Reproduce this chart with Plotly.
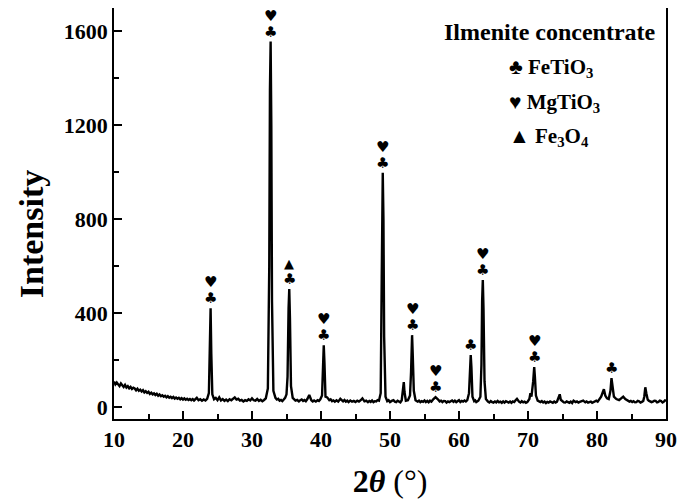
import plotly.graph_objects as go

# ---- data ----
two_theta = [
    10.0, 10.2, 10.4, 10.6, 10.8, 11.0, 11.2, 11.4, 11.6, 11.8, 12.0, 12.2, 12.4, 12.6, 12.8,
    13.0, 13.2, 13.4, 13.6, 13.8, 14.0, 14.2, 14.4, 14.6, 14.8, 15.0, 15.2, 15.4, 15.6, 15.8,
    16.0, 16.2, 16.4, 16.6, 16.8, 17.0, 17.2, 17.4, 17.6, 17.8, 18.0, 18.2, 18.4, 18.6, 18.8,
    19.0, 19.2, 19.4, 19.6, 19.8, 20.0, 20.2, 20.4, 20.6, 20.8, 21.0, 21.2, 21.4, 21.6, 21.8,
    22.0, 22.25, 22.50, 22.75, 23.00, 23.25, 23.50,
    23.75, 23.90, 24.00, 24.10, 24.25, 24.50,
    24.75, 25.00, 25.25, 25.50, 25.75, 26.00, 26.25, 26.50, 26.75, 27.00, 27.25, 27.50,
    27.75, 28.00, 28.25, 28.50, 28.75, 29.00, 29.25, 29.50, 29.75,
    30.00, 30.25, 30.50, 30.75, 31.00, 31.25, 31.50, 31.75, 32.00,
    32.30, 32.50, 32.60, 32.70, 32.80, 32.90, 33.10, 33.40, 33.60, 33.80, 34.00, 34.20,
    34.40, 34.60, 34.80,
    35.00, 35.15, 35.30, 35.40, 35.50, 35.65, 35.90, 36.10, 36.30, 36.55, 36.80, 37.00,
    37.20, 37.40, 37.60, 37.80, 38.00,
    38.30, 38.60, 38.80, 39.00, 39.25, 39.50, 39.70, 39.90,
    40.15, 40.30, 40.40, 40.50, 40.65, 40.90, 41.20, 41.40, 41.60, 41.80, 42.00, 42.25,
    42.50, 42.80, 43.00, 43.20, 43.40, 43.60, 43.80, 44.00, 44.25, 44.50, 44.75, 45.00,
    45.25, 45.50, 45.75, 46.00, 46.30, 46.55, 46.80, 47.00, 47.20, 47.40, 47.60, 47.80,
    48.00, 48.20, 48.40,
    48.65, 48.80, 48.90, 48.95, 49.05, 49.15, 49.35, 49.60, 49.80, 50.00, 50.25, 50.50,
    50.70, 50.90, 51.10, 51.30, 51.50, 51.70, 51.90, 52.00, 52.10, 52.30, 52.60, 52.90,
    53.05, 53.20, 53.30, 53.45, 53.70, 53.85, 54.00, 54.20, 54.40, 54.60, 54.80, 55.00,
    55.20, 55.40, 55.60, 55.80, 56.00, 56.30,
    56.60, 56.90, 57.20, 57.40, 57.60, 57.80, 58.00, 58.20, 58.40, 58.60, 58.80, 59.00,
    59.20, 59.40, 59.60, 59.80, 60.00, 60.20, 60.40, 60.60, 60.80, 61.00,
    61.20, 61.45, 61.60, 61.70, 61.80, 61.95, 62.20, 62.35, 62.50, 62.65, 62.80, 63.10,
    63.25, 63.35, 63.45, 63.55, 63.70, 63.90, 64.05, 64.20, 64.40, 64.60, 64.80, 65.00,
    65.20, 65.40, 65.60, 65.80, 66.00, 66.20, 66.40, 66.60, 66.80, 67.00, 67.20, 67.40,
    67.60, 67.80, 68.00, 68.20, 68.40, 68.70, 68.90, 69.10, 69.30, 69.50, 69.70, 69.90,
    70.20, 70.35,
    70.50, 70.75, 70.90, 71.00, 71.15, 71.40, 71.60, 71.80, 72.00, 72.20, 72.40, 72.60,
    72.80, 73.00, 73.20, 73.40, 73.60, 73.80, 74.00,
    74.20, 74.50, 74.60, 74.75, 75.00, 75.20, 75.40, 75.60, 75.80, 76.00, 76.20, 76.40,
    76.60, 76.90, 77.10, 77.30, 77.50, 77.70, 78.00, 78.30, 78.50, 78.70, 78.90, 79.10,
    79.30, 79.50, 79.70, 79.90, 80.10, 80.30, 80.60, 80.85, 81.00, 81.20, 81.45,
    81.70, 81.95, 82.10, 82.25, 82.45, 82.80, 83.00, 83.20, 83.50, 83.80, 84.10, 84.30,
    84.50, 84.70, 84.90, 85.10, 85.30, 85.50, 85.70, 85.90, 86.10, 86.30, 86.50, 86.70,
    86.85, 87.00, 87.15, 87.35, 87.50, 87.70, 87.90, 88.10, 88.30, 88.50, 88.70, 88.90,
    89.10, 89.30, 89.50, 89.70, 89.85, 90.00,
]
intensity = [
    110, 97, 105, 99, 90, 101, 93, 86, 95, 84, 90, 81, 87, 78, 83,
    80, 72, 79, 70, 75, 67, 73, 63, 68, 61, 66, 57, 62, 55, 59,
    52, 57, 49, 54, 47, 51, 45, 49, 42, 47, 41, 45, 39, 44, 37,
    41, 36, 40, 34, 39, 33, 38, 32, 36, 31, 35, 30, 35, 29, 33,
    40, 30, 34, 28, 33, 29, 36,
    60, 250, 422, 230, 55, 34,
    40, 30, 42, 29, 35, 27, 33, 26, 34, 30, 37, 42,
    33, 36, 28, 31, 25, 30, 27, 34, 29,
    38, 30, 28, 35, 27, 32, 26, 31, 38,
    80, 600, 1350, 1557, 1200, 450, 70, 40, 33, 36, 28, 31,
    26, 34, 40,
    55, 130, 420, 503, 380, 90, 40, 33, 28, 31, 25, 30,
    33, 27, 31, 26, 34,
    52, 30, 25, 29, 24, 30, 27, 34,
    50, 200, 264, 190, 45, 42, 30, 34, 26, 29, 24, 30,
    24, 36, 28, 25, 31, 24, 28, 22, 29, 24, 27, 22,
    28, 24, 30, 38, 25, 28, 22, 27, 23, 29, 22, 26,
    25, 30, 28,
    60, 550, 950, 998, 800, 300, 45, 26, 30, 22, 27, 30,
    24, 22, 28, 25, 21, 30, 70, 107, 65, 28, 30, 50,
    150, 307, 220, 70, 30, 26, 24, 28, 22, 26, 23, 29,
    22, 27, 21, 28, 24, 35,
    43, 35, 25, 28, 22, 27, 26, 20, 25, 22, 24, 29,
    23, 28, 22, 26, 30, 22, 27, 24, 29, 25,
    30, 60, 190, 222, 170, 45, 26, 29, 22, 27, 28, 45,
    180, 450, 542, 420, 110, 35, 28, 24, 20, 26, 22, 20,
    25, 21, 27, 21, 24, 19, 25, 20, 26, 23, 20, 24,
    19, 25, 22, 30, 36, 24, 20, 26, 21, 24, 19, 22,
    35, 60,
    45, 110, 171, 130, 50, 28, 24, 22, 26, 20, 24, 18,
    23, 20, 25, 21, 19, 24, 20,
    24, 45, 55, 32, 25, 21, 20, 25, 22, 19, 24, 18,
    28, 22, 25, 20, 23, 24, 28, 21, 25, 20, 23, 24,
    19, 22, 26, 28, 24, 34, 45, 65, 77, 50, 38,
    35, 70, 124, 90, 45, 35, 32, 30, 38, 45, 35, 30,
    28, 24, 27, 22, 26, 21, 22, 27, 25, 20, 23, 27,
    45, 85, 60, 32, 28, 26, 22, 24, 28, 27, 21, 23,
    28, 26, 20, 24, 29, 27,
]

x_ticks = [10, 20, 30, 40, 50, 60, 70, 80, 90]
y_ticks = [0, 400, 800, 1200, 1600]

# peak labels: position, peak top, symbols stacked from bottom to top
peak_pos = [24.0, 32.7, 35.4, 40.4, 48.95, 53.2, 56.6, 61.7, 63.45, 70.9, 82.1]
peak_top = [422, 1557, 503, 264, 998, 307, 43, 222, 542, 171, 124]
peak_syms = [["♣", "♥"], ["♣", "♥"], ["♣", "▲"], ["♣", "♥"], ["♣", "♥"],
             ["♣", "♥"], ["♣", "♥"], ["♣"], ["♣", "♥"], ["♣", "♥"], ["♣"]]

legend_title = "Ilmenite concentrate"
legend_items = ["♣ FeTiO<sub>3</sub>", "♥ MgTiO<sub>3</sub>", "▲ Fe<sub>3</sub>O<sub>4</sub>"]
x_title = "<b>2<i>θ</i></b> (°)"
y_title = "<b>Intensity</b>"

SERIF = "Liberation Serif, Times New Roman, serif"
SYM = "DejaVu Sans"

fig = go.Figure()
fig.add_trace(go.Scatter(x=two_theta, y=intensity, mode="lines",
                         line=dict(color="black", width=2.4), showlegend=False))

annotations = []
for px, pt, syms in zip(peak_pos, peak_top, peak_syms):
    for k, s in enumerate(syms):
        annotations.append(dict(
            x=px, y=pt, xref="x", yref="y", text=s, showarrow=False,
            yanchor="middle", yshift=10 + 16 * k,
            font=dict(family=SYM, size=15 if s != "▲" else 13, color="black")))

annotations.append(dict(x=0.986, y=0.942, xref="paper", yref="paper", text="<b>" + legend_title + "</b>",
                        showarrow=False, xanchor="right", yanchor="middle",
                        font=dict(family=SERIF, size=24, color="black")))
leg_y = [0.854, 0.769, 0.686]
for t, yy in zip(legend_items, leg_y):
    annotations.append(dict(x=0.712, y=yy, xref="paper", yref="paper", text="<b>" + t + "</b>",
                            showarrow=False, xanchor="left", yanchor="middle",
                            font=dict(family=SERIF, size=21, color="black")))

# y-axis title placed slightly below the axis centre, as in the reference
annotations.append(dict(x=-0.150, y=0.45, xref="paper", yref="paper", text=y_title,
                        showarrow=False, textangle=-90, xanchor="center", yanchor="middle",
                        font=dict(family=SERIF, size=34, color="black")))

# the page body has an 8px margin, so margins are shifted to compensate
fig.update_layout(
    width=690, height=503,
    margin=dict(l=106, r=32, t=0, b=92, autoexpand=False),
    paper_bgcolor="white", plot_bgcolor="white",
    annotations=annotations,
    xaxis=dict(range=[10, 90], tickvals=x_ticks, ticktext=[f"<b>{v}</b>" for v in x_ticks],
               ticks="inside", ticklen=8, tickwidth=1.5, tickcolor="black",
               minor=dict(dtick=5, ticks="inside", ticklen=5, tickwidth=1.5, tickcolor="black"),
               showline=True, linecolor="black", linewidth=1.5, mirror=True,
               showgrid=False, zeroline=False, automargin=False,
               tickfont=dict(family=SERIF, size=22, color="black"),
               title=dict(text=x_title, standoff=18,
                          font=dict(family=SERIF, size=32, color="black"))),
    yaxis=dict(range=[-50, 1700], tickvals=y_ticks, ticktext=[f"<b>{v}</b>" for v in y_ticks],
               ticks="inside", ticklen=8, tickwidth=1.5, tickcolor="black",
               minor=dict(dtick=200, tick0=0, ticks="inside", ticklen=5, tickwidth=1.5, tickcolor="black"),
               showline=True, linecolor="black", linewidth=1.5, mirror=True,
               showgrid=False, zeroline=False, automargin=False,
               tickfont=dict(family=SERIF, size=22, color="black")),
)

fig.write_html("out.html")
